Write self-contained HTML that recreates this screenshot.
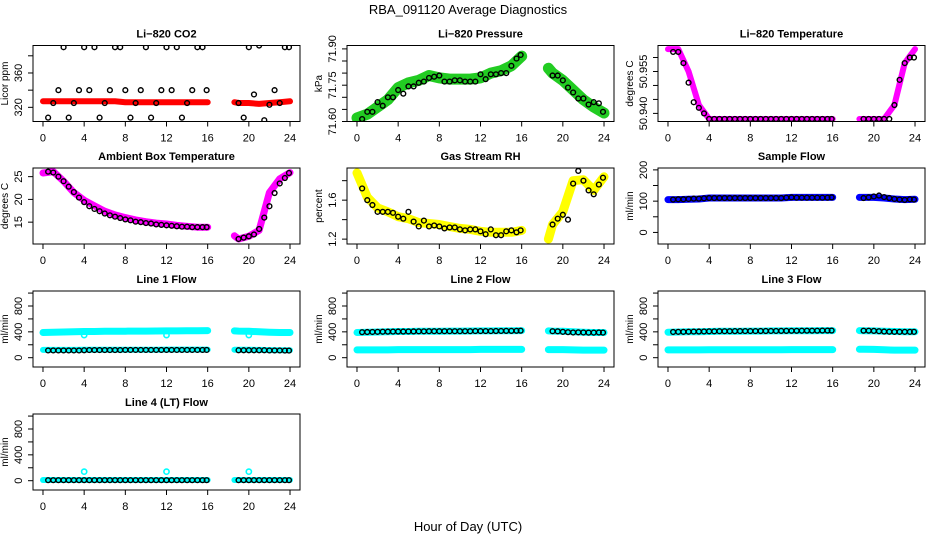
<!DOCTYPE html>
<html><head><meta charset="utf-8"><style>
body{margin:0;background:#fff;}
svg{display:block;font-family:"Liberation Sans",Arial,sans-serif;}
</style></head><body>
<svg id="chart" width="936" height="540" viewBox="0 0 936 540">
<text x="468" y="14" text-anchor="middle" font-size="13">RBA_091120  Average Diagnostics</text>
<text x="468" y="531" text-anchor="middle" font-size="13">Hour of Day (UTC)</text>
</svg>
<script>
const bandHoursA=[0,1,2,3,4,5,6,7,8,9,10,11,12,13,14,15,16];
const bandHoursB=[18.6,19,20,21,22,23,24];
const blackHours=[0.5,1,1.5,2,2.5,3,3.5,4,4.5,5,5.5,6,6.5,7,7.5,8,8.5,9,9.5,10,10.5,11,11.5,12,12.5,13,13.5,14,14.5,15,15.5,15.9,19,19.5,20,20.5,21,21.5,22,22.5,23,23.5,23.9];
const xTicks=[0,4,8,12,16,20,24];

const co2BandA=[327,327,327,327,327,327,327,327,326,326,326,326,326,326,326,326,326];
const co2BandB=[326,325,325,324,325,326,327];
const co2Black=[308,325,340,390,308,325,340,390,340,390,308,325,340,390,390,340,308,325,340,390,308,325,340,390,340,390,308,325,340,390,390,340,325,308,390,335,392,305,323,340,325,390,390];

const presBandA=[71.615,71.63,71.66,71.69,71.74,71.76,71.77,71.79,71.78,71.775,71.775,71.775,71.78,71.80,71.81,71.83,71.87];
const presBandB=[71.82,71.80,71.77,71.73,71.69,71.66,71.635];
const presBlack=[71.61,71.64,71.64,71.68,71.665,71.70,71.70,71.73,71.715,71.745,71.745,71.76,71.765,71.78,71.785,71.79,71.765,71.765,71.77,71.77,71.765,71.765,71.765,71.795,71.775,71.795,71.795,71.80,71.80,71.83,71.86,71.875,71.79,71.79,71.77,71.74,71.72,71.695,71.695,71.67,71.68,71.675,71.64];

const tempBandA=[50.963,50.963,50.955,50.943,50.938,50.938,50.938,50.938,50.938,50.938,50.938,50.938,50.938,50.938,50.938,50.938,50.938];
const tempBandB=[50.938,50.938,50.938,50.938,50.943,50.958,50.963];
const tempBlack=[50.962,50.962,50.958,50.951,50.944,50.942,50.940,50.938,50.938,50.938,50.938,50.938,50.938,50.938,50.938,50.938,50.938,50.938,50.938,50.938,50.938,50.938,50.938,50.938,50.938,50.938,50.938,50.938,50.938,50.938,50.938,50.938,50.938,50.938,50.938,50.938,50.938,50.938,50.943,50.952,50.958,50.960,50.960];

const ambBandA=[25.8,26.1,24,21.5,19.8,18.6,17.4,16.6,16,15.5,15.1,14.8,14.6,14.3,14.1,13.9,13.9];
const ambBandB=[12,11.3,11.9,13.2,21.5,24.5,25.9];
const ambBlack=[26.1,25.9,25,24,22.8,21.6,20.4,19.4,18.5,17.9,17.4,16.9,16.5,16.2,15.9,15.6,15.4,15.1,15,14.8,14.7,14.5,14.4,14.3,14.2,14.1,14,14,13.9,13.9,13.9,13.9,11.3,11.6,11.9,12.3,13.5,16,18.5,21.4,23.5,24.7,25.8];

const rhBandA=[1.88,1.63,1.52,1.48,1.43,1.41,1.37,1.36,1.35,1.33,1.31,1.30,1.28,1.27,1.27,1.27,1.29];
const rhBandB=[1.20,1.35,1.48,1.80,1.81,1.70,1.84];
const rhBlack=[1.72,1.60,1.55,1.48,1.48,1.48,1.47,1.43,1.41,1.48,1.38,1.33,1.39,1.33,1.34,1.33,1.31,1.32,1.32,1.30,1.29,1.30,1.30,1.28,1.25,1.30,1.24,1.24,1.28,1.29,1.27,1.29,1.35,1.41,1.45,1.40,1.77,1.90,1.80,1.70,1.66,1.76,1.83];

const sfBandA=[105,105,106,107,110,110,110,110,110,110,110,110,112,112,112,112,112];
const sfBandB=[112,112,112,110,107,105,106];
const sfBlack=[105,106,106,107,108,108,109,110,110,110,110,110,110,110,110,110,110,110,110,110,110,110,111,112,111,111,111,111,111,111,111,112,110,112,115,118,113,110,107,105,104,106,105];

const l1UpperA=[390,395,398,400,405,405,408,410,410,412,412,413,415,415,418,418,420];
const l1UpperB=[415,412,408,400,395,390,390];
const l1LowerA=[120,120,120,120,122,122,122,122,122,122,122,122,125,125,125,125,125];
const l1LowerB=[122,122,122,120,118,115,115];
const l1Black=[112,112,112,112,112,112,112,115,118,118,118,118,118,118,118,120,120,120,120,120,120,120,120,120,120,120,120,120,120,120,120,120,115,115,115,115,115,115,112,112,112,110,110];

const l2UpperA=[390,395,398,400,405,405,408,410,410,412,412,413,415,415,418,418,420];
const l2UpperB=[415,412,408,400,395,390,390];
const l2LowerA=[120,120,120,120,125,125,125,125,125,125,125,125,128,128,128,128,128];
const l2LowerB=[125,125,125,120,118,118,118];
const l2Black=[395,397,398,400,402,403,404,405,405,406,407,408,408,410,410,410,410,410,410,410,410,410,412,412,412,412,413,414,415,415,416,418,410,408,400,395,390,392,390,388,388,390,388];

const l3UpperA=[395,398,400,402,405,408,410,410,412,412,414,415,416,418,418,420,420];
const l3UpperB=[420,418,415,410,405,400,400];
const l3LowerA=[120,120,120,120,122,122,122,122,122,122,122,122,125,125,125,125,125];
const l3LowerB=[130,130,128,122,118,118,118];
const l3Black=[398,400,400,402,404,405,406,408,408,410,410,410,411,412,412,412,412,413,413,414,414,415,415,416,416,417,418,418,418,420,420,420,418,418,415,410,405,402,400,400,400,400,400];

const l4BandA=[10,10,10,10,10,10,10,10,10,10,10,10,10,10,10,10,10];
const l4BandB=[10,10,10,10,10,10,10];
const l4Black=[8,8,8,8,8,8,8,8,8,8,8,8,8,8,8,8,8,8,8,8,8,8,8,8,8,8,8,8,8,8,8,8,8,8,8,8,8,8,8,8,8,8,8];
const outlierHours=[4,12,20];
const l1Outliers=[350,350,350];
const l4Outliers=[140,140,140];

const NS='http://www.w3.org/2000/svg';
const svg=document.getElementById('chart');
const X0=-0.97,X1=24.97,W=267,H=76;
const colL=[33,347,658], rowT=[45.5,168,291,414];
function mk(tag,attrs,parent){const e=document.createElementNS(NS,tag);for(const k in attrs)e.setAttribute(k,attrs[k]);(parent||svg).appendChild(e);return e;}

function panel(cfg){
  const L=colL[cfg.col],T=rowT[cfg.row];
  const g=mk('g',{});
  
  
  const xs=h=>L+(h-X0)/(X1-X0)*W;
  const ys=v=>T+H-(v-cfg.y0)/(cfg.y1-cfg.y0)*H;
  const cid='clip-'+cfg.name;
  const cp=mk('clipPath',{id:cid},g);mk('rect',{x:L,y:T,width:W,height:H},cp);
  const pg=mk('g',{'clip-path':'url(#'+cid+')'},g);
  cfg.bands.forEach(b=>{
    [[bandHoursA,b.a],[bandHoursB,b.b]].forEach(([hs,vs])=>{
      const pts=hs.map((h,i)=>xs(h).toFixed(1)+','+ys(vs[i]).toFixed(1)).join(' ');
      const pl=mk('polyline',{points:pts,fill:'none',stroke:b.color,'stroke-width':b.w,'stroke-linecap':'round','stroke-linejoin':'round'},pg);
      
      
    });
  });
  if(cfg.outliers){
    outlierHours.forEach((h,i)=>{
      const c=mk('circle',{cx:xs(h),cy:ys(cfg.outliers[i]),r:2.6,fill:'none',stroke:cfg.bands[0].color,'stroke-width':1.6},pg);
      
      
    });
  }
  blackHours.forEach((h,i)=>{
    const c=mk('circle',{cx:xs(h),cy:ys(cfg.black[i]),r:2.4,fill:'none',stroke:'#000','stroke-width':1.4},pg);
    
    
  });
  const box=mk('rect',{x:L,y:T,width:W,height:H,fill:'none',stroke:'#000','stroke-width':1},g);
  
  
  const t=mk('text',{x:L+W/2,y:T-8,'text-anchor':'middle','font-size':11,'font-weight':'bold'},g);
  t.textContent=cfg.title;
  
  
  xTicks.forEach(v=>{
    mk('line',{x1:xs(v),x2:xs(v),y1:T+H,y2:T+H+5,stroke:'#000'},g);
    const tl=mk('text',{x:xs(v),y:T+H+20,'text-anchor':'middle','font-size':11},g);
    tl.textContent=v;
    
    
  });
  cfg.yTicks.forEach(v=>{mk('line',{x1:L-5,x2:L,y1:ys(v),y2:ys(v),stroke:'#000'},g);});
  cfg.yLabels.forEach(v=>{
    const yy=ys(v);
    const tl=mk('text',{x:L-11,y:yy,'text-anchor':'middle','font-size':11,transform:'rotate(-90 '+(L-11)+' '+yy+')'},g);
    tl.textContent=v;
    
    
  });
  const yt=mk('text',{x:L-25,y:T+H/2,'text-anchor':'middle','font-size':10,transform:'rotate(-90 '+(L-25)+' '+(T+H/2)+')'},g);
  yt.textContent=cfg.ylab;
  
  
}
const flowTicks=[0,200,400,600,800,1000], flowLabels=['0','400','800'];
panel({name:'co2-panel',title:'Li\u2212820 CO2',col:0,row:0,y0:303.5,y1:392,yTicks:[320,340,360,380],yLabels:['320','360'],ylab:'Licor ppm',bands:[{a:co2BandA,b:co2BandB,color:'#ff0000',w:6}],black:co2Black});
panel({name:'pressure-panel',title:'Li\u2212820 Pressure',col:1,row:0,y0:71.60,y1:71.914,yTicks:[71.60,71.65,71.70,71.75,71.80,71.85,71.90],yLabels:['71.60','71.75','71.90'],ylab:'kPa',bands:[{a:presBandA,b:presBandB,color:'#22cc22',w:11}],black:presBlack});
panel({name:'temperature-panel',title:'Li\u2212820 Temperature',col:2,row:0,y0:50.9371,y1:50.9643,yTicks:[50.940,50.945,50.950,50.955,50.960],yLabels:['50.940','50.955'],ylab:'degrees C',bands:[{a:tempBandA,b:tempBandB,color:'#ff00ff',w:6}],black:tempBlack});
panel({name:'ambient-panel',title:'Ambient Box Temperature',col:0,row:1,y0:10.2,y1:26.9,yTicks:[15,20,25],yLabels:['15','20','25'],ylab:'degrees C',bands:[{a:ambBandA,b:ambBandB,color:'#ff00ff',w:7}],black:ambBlack});
panel({name:'rh-panel',title:'Gas Stream RH',col:1,row:1,y0:1.15,y1:1.93,yTicks:[1.2,1.4,1.6,1.8],yLabels:['1.2','1.6'],ylab:'percent',bands:[{a:rhBandA,b:rhBandB,color:'#ffff00',w:9}],black:rhBlack});
panel({name:'sample-flow-panel',title:'Sample Flow',col:2,row:1,y0:-37,y1:206,yTicks:[0,50,100,150,200],yLabels:['0','100','200'],ylab:'ml/min',bands:[{a:sfBandA,b:sfBandB,color:'#0000ff',w:7}],black:sfBlack});
panel({name:'line1-panel',title:'Line 1 Flow',col:0,row:2,y0:-144,y1:1032,yTicks:flowTicks,yLabels:flowLabels,ylab:'ml/min',bands:[{a:l1UpperA,b:l1UpperB,color:'#00ffff',w:7},{a:l1LowerA,b:l1LowerB,color:'#00ffff',w:6}],black:l1Black,outliers:l1Outliers});
panel({name:'line2-panel',title:'Line 2 Flow',col:1,row:2,y0:-144,y1:1032,yTicks:flowTicks,yLabels:flowLabels,ylab:'ml/min',bands:[{a:l2UpperA,b:l2UpperB,color:'#00ffff',w:7},{a:l2LowerA,b:l2LowerB,color:'#00ffff',w:7}],black:l2Black});
panel({name:'line3-panel',title:'Line 3 Flow',col:2,row:2,y0:-144,y1:1032,yTicks:flowTicks,yLabels:flowLabels,ylab:'ml/min',bands:[{a:l3UpperA,b:l3UpperB,color:'#00ffff',w:7},{a:l3LowerA,b:l3LowerB,color:'#00ffff',w:7}],black:l3Black});
panel({name:'line4-panel',title:'Line 4 (LT) Flow',col:0,row:3,y0:-144,y1:1032,yTicks:flowTicks,yLabels:flowLabels,ylab:'ml/min',bands:[{a:l4BandA,b:l4BandB,color:'#00ffff',w:6}],black:l4Black,outliers:l4Outliers});
</script>
</body></html>
